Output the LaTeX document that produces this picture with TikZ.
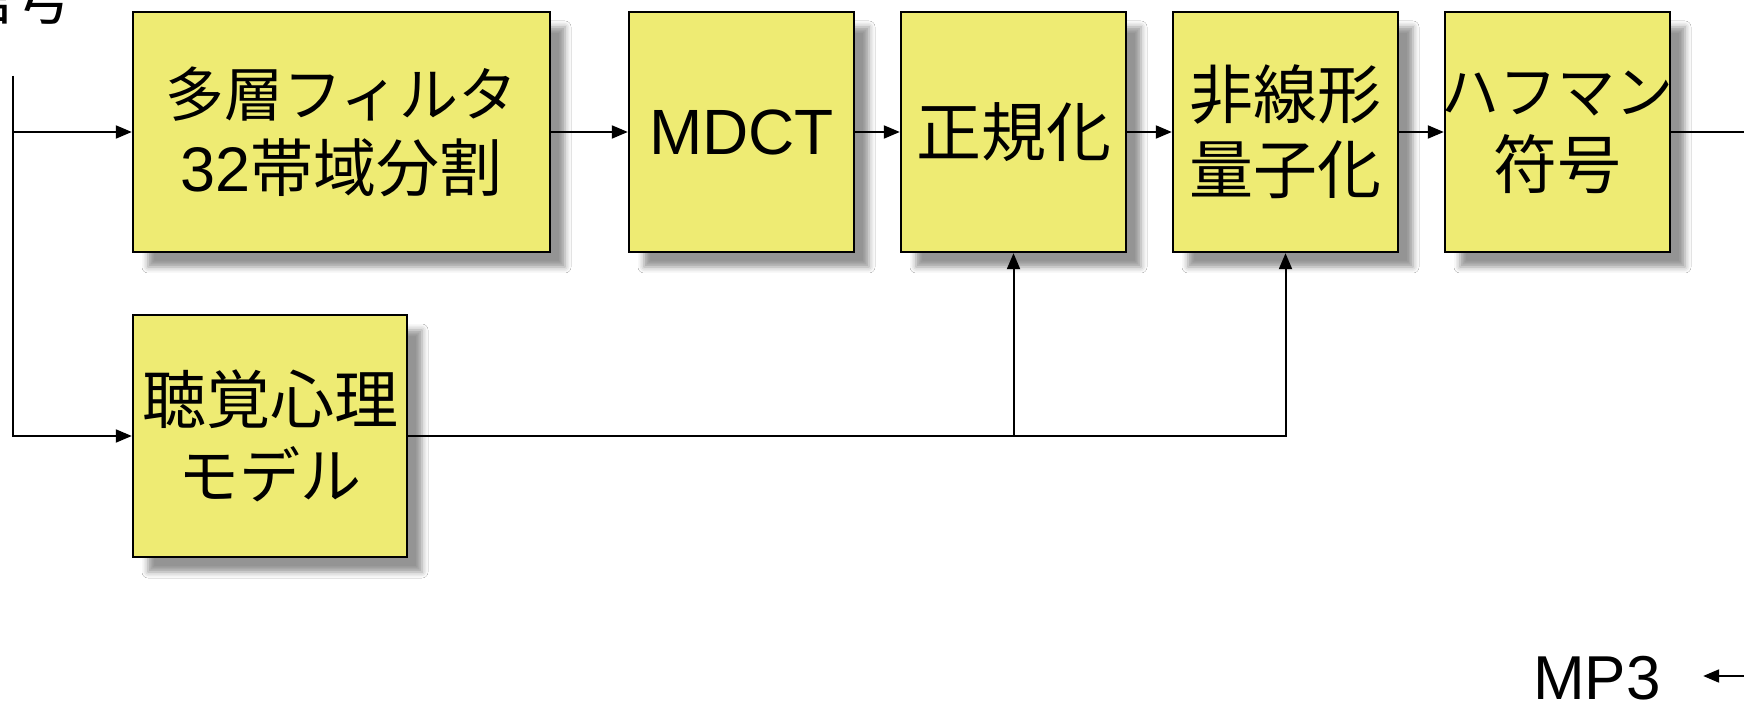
\documentclass[tikz,border=0pt]{standalone}
\usepackage{fontspec}
\setmainfont{Liberation Sans}
\newfontfamily\jp{Noto Sans CJK JP}
\usetikzlibrary{arrows.meta,shadows.blur}
\definecolor{boxyellow}{RGB}{238,235,115}
\newcommand{\fs}[1]{\fontsize{#1}{37.5}\selectfont}
\tikzset{
  blk/.style={draw=black, line width=1.2pt, fill=boxyellow, align=center,
    inner sep=0pt, font=\fs{32},
    blur shadow={shadow xshift=7.5pt, shadow yshift=-7.5pt, shadow blur radius=3pt, shadow opacity=42}},
  wide/.style={minimum width=208.5pt, minimum height=120pt},
  narrow/.style={minimum width=112.5pt, minimum height=120pt},
  conn/.style={line width=1pt},
  arr/.style={conn, -{Triangle[length=8pt,width=6.5pt]}},
  lbl/.style={inner sep=0pt, font=\fontsize{31}{36}\selectfont},
}
\begin{document}
\begin{tikzpicture}[x=0.5pt, y=-0.5pt]
\useasboundingbox (0,0) rectangle (1744,704);
\clip (0,0) rectangle (1744,704);
\fill[white] (0,0) rectangle (1744,704);

\node[lbl, anchor=base east, font=\fs{30}] (sig) at (74,20) {\jp 信号};

\node[blk, wide] (filt) at (341.5,132) {{\fs{29.5}\jp 多層フィルタ}\\{\fs{31.5}32\jp 帯域分割}};
\node[blk, narrow] (mdct) at (741.5,132) {MDCT};
\node[blk, narrow, font=\fs{32.5}] (norm) at (1013.5,132) {\jp 正規化};
\node[blk, narrow] (quant) at (1285.5,132) {\jp 非線形\\\jp 量子化};
\node[blk, narrow] (huff) at (1557.5,132) {\makebox[0pt]{\fs{29}\jp ハフマン}\\\jp 符号};
\node[blk, minimum width=137pt, minimum height=121pt] (psy) at (270,436) {\jp 聴覚心理\\{\fs{30.5}\jp モデル}};

\node[lbl, anchor=base] (mp3) at (1597,699) {MP3};

\coordinate (start) at (13,76);
\coordinate (outE) at (1744,132);
\coordinate (inE) at (1744,676);

\draw[arr] (start) |- (filt.west);
\draw[arr] (start) |- (psy.west);
\draw[arr] (filt) -- (mdct);
\draw[arr] (mdct) -- (norm);
\draw[arr] (norm) -- (quant);
\draw[arr] (quant) -- (huff);
\draw[conn] (huff.east) -- (outE);
\draw[arr] (psy.east) -| (norm.south);
\draw[arr] (psy.east) -| (quant.south);
\draw[arr, shorten >=21pt] (inE) -- (inE -| mp3.east);
\end{tikzpicture}
\end{document}
